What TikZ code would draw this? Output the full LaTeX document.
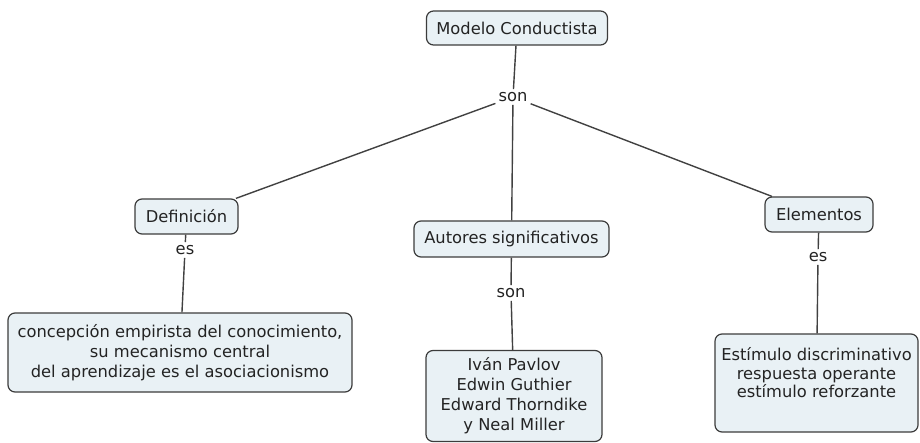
\documentclass[tikz,border=0pt]{standalone}
\usepackage{fontspec}
\setmainfont{DejaVu Sans}
\definecolor{boxfill}{RGB}{233,241,245}
\definecolor{boxline}{RGB}{60,60,60}
\definecolor{linecol}{RGB}{65,65,65}
\definecolor{txt}{RGB}{35,35,35}
\begin{document}
\begin{tikzpicture}[x=1pt,y=-1pt,
  concept/.style={draw=boxline,fill=boxfill,rounded corners=7pt,line width=1.2pt,
    align=center,inner sep=0pt,text=txt,font=\fontsize{16.3}{20}\selectfont},
  linklabel/.style={inner sep=3pt,text=txt,font=\fontsize{16.3}{20}\selectfont},
  conn/.style={draw=linecol,line width=1.4pt}]
\useasboundingbox (0,0) rectangle (920,443);
% concepts
\node[concept,minimum width=181pt,minimum height=34pt] (mc) at (517,28) {Modelo Conductista};
\node[concept,minimum width=103pt,minimum height=35pt] (def) at (186.5,216.5) {Definición};
\node[concept,minimum width=195pt,minimum height=36pt] (aut) at (511.5,239) {Autores significativos};
\node[concept,minimum width=108pt,minimum height=35pt] (elem) at (819,214.5) {Elementos};
\node[concept,minimum width=344pt,minimum height=79pt] (concep) at (180,352.5)
  {concepción empirista del conocimiento,\\su mecanismo central\\del aprendizaje es el asociacionismo};
\node[concept,minimum width=176pt,minimum height=91pt] (authors) at (514,396)
  {Iván Pavlov\\Edwin Guthier\\Edward Thorndike\\y Neal Miller};
\node[concept,minimum width=203pt,minimum height=98pt] (elembox) at (816.5,383) {};
\node[align=center,inner sep=0pt,text=txt,font=\fontsize{16.3}{18.5}\selectfont] (elemtxt) at (816.5,373)
  {Estímulo discriminativo\\respuesta operante\\estímulo reforzante};
% linking phrases
\node[linklabel] (son1) at (513,97) {son};
\node[linklabel] (es1) at (185,250) {es};
\node[linklabel] (son2) at (511,293) {son};
\node[linklabel] (es2) at (818,257) {es};
% connectors
\draw[conn] (mc) -- (son1);
\draw[conn] (son1) -- (def);
\draw[conn] (son1) -- (aut);
\draw[conn] (son1) -- (elem);
\draw[conn] (def) -- (es1);
\draw[conn] (es1) -- (concep);
\draw[conn] (aut) -- (son2);
\draw[conn] (son2) -- (authors);
\draw[conn] (elem) -- (es2);
\draw[conn] (es2) -- (elembox);
\end{tikzpicture}
\end{document}
